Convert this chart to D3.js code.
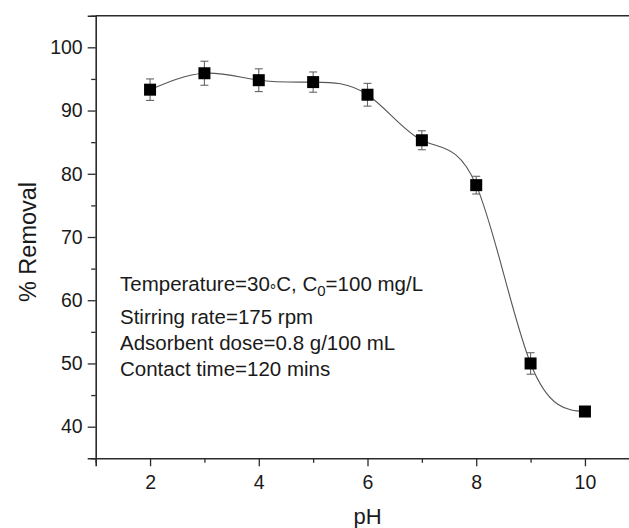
<!DOCTYPE html>
<html>
<head>
<meta charset="utf-8">
<script src="https://cdn.jsdelivr.net/npm/d3@7"></script>
<style>
  html, body { margin: 0; padding: 0; background: #fff; }
  svg { display: block; font-family: "Liberation Sans", Arial, Helvetica, sans-serif; }
</style>
</head>
<body>
<svg id="chart" width="629" height="528"></svg>
<script>
// pH study: percentage removal against solution pH
const pH = [2, 3, 4, 5, 6, 7, 8, 9, 10];
const removal = [93.3, 95.9, 94.8, 94.5, 92.5, 85.3, 78.2, 50.0, 42.4];
const errorBar = [1.7, 1.9, 1.8, 1.6, 1.8, 1.5, 1.4, 1.7, 0.7];

const xMajorTicks = [2, 4, 6, 8, 10];
const xMinorTicks = [1, 3, 5, 7, 9, 11];
const yMajorTicks = [40, 50, 60, 70, 80, 90, 100];
const yMinorTicks = [35, 45, 55, 65, 75, 85, 95, 105];

const xLabel = "pH";
const yLabel = "% Removal";

const svg = d3.select("#chart");
const plotLeft = 95.7, plotTop = 15.7, plotBottom = 458.3;
const pxPerUnit = 54.36;

const x = d3.scaleLinear().domain([1, 11]).range([plotLeft, plotLeft + 10 * pxPerUnit]);
const y = d3.scaleLinear().domain([35, 105]).range([plotBottom, plotTop]);

const axisColor = "#2b2b2b";
const textColor = "#1a1a1a";

// x axis: major ticks labelled, minor ticks unlabelled
const gx = svg.append("g").attr("transform", `translate(0,${plotBottom})`);
gx.call(d3.axisBottom(x).tickValues(xMajorTicks).tickSize(8).tickPadding(9).tickFormat(d3.format("d")));
gx.append("g").call(d3.axisBottom(x).tickValues(xMinorTicks).tickSize(4.5).tickFormat(""))
  .select(".domain").remove();

// y axis
const gy = svg.append("g").attr("transform", `translate(${plotLeft},0)`);
gy.call(d3.axisLeft(y).tickValues(yMajorTicks).tickSize(8).tickPadding(5).tickFormat(d3.format("d")));
gy.append("g").call(d3.axisLeft(y).tickValues(yMinorTicks).tickSize(4.5).tickFormat(""))
  .select(".domain").remove();

svg.selectAll(".domain").attr("stroke", axisColor).attr("stroke-width", 1.6);
svg.selectAll(".tick line").attr("stroke", axisColor).attr("stroke-width", 1.3);
svg.selectAll(".tick text").attr("fill", textColor).attr("font-size", 19.5)
  .attr("font-family", '"Liberation Sans", Arial, sans-serif');

// top frame line
svg.append("line")
  .attr("x1", plotLeft).attr("x2", x(11))
  .attr("y1", plotTop).attr("y2", plotTop)
  .attr("stroke", axisColor).attr("stroke-width", 1.6);

// axis titles
svg.append("text")
  .attr("x", x(6)).attr("y", 524)
  .attr("text-anchor", "middle")
  .attr("font-size", 22).attr("fill", textColor)
  .text(xLabel);

svg.append("text")
  .attr("transform", `translate(36,${(plotTop + plotBottom) / 2 + 5}) rotate(-90)`)
  .attr("text-anchor", "middle")
  .attr("font-size", 23.5).attr("fill", textColor)
  .text(yLabel);

// smooth connecting curve
const pts = pH.map((d, i) => [d, removal[i]]);
svg.append("path")
  .datum(pts)
  .attr("fill", "none")
  .attr("stroke", "#555")
  .attr("stroke-width", 1.1)
  .attr("d", d3.line().x(d => x(d[0])).y(d => y(d[1])).curve(d3.curveNatural));

// error bars
const capHalf = 4;
const eb = svg.append("g").attr("stroke", "#666").attr("stroke-width", 1.1);
pts.forEach((p, i) => {
  const cx = x(p[0]);
  const yHi = y(p[1] + errorBar[i]), yLo = y(p[1] - errorBar[i]);
  eb.append("line").attr("x1", cx).attr("x2", cx).attr("y1", yHi).attr("y2", yLo);
  eb.append("line").attr("x1", cx - capHalf).attr("x2", cx + capHalf).attr("y1", yHi).attr("y2", yHi);
  eb.append("line").attr("x1", cx - capHalf).attr("x2", cx + capHalf).attr("y1", yLo).attr("y2", yLo);
});

// square markers
const s = 12;
svg.append("g").selectAll("rect")
  .data(pts)
  .join("rect")
  .attr("x", d => x(d[0]) - s / 2)
  .attr("y", d => y(d[1]) - s / 2)
  .attr("width", s).attr("height", s)
  .attr("fill", "#000");

// experimental conditions
const note = svg.append("g").attr("font-size", 20.5).attr("fill", textColor);
const t1 = note.append("text").attr("x", 120).attr("y", 291);
t1.append("tspan").text("Temperature=30");
t1.append("tspan").attr("font-size", 16).attr("dy", 5).text("\u00B0");
t1.append("tspan").attr("dy", -5).text("C, C");
t1.append("tspan").attr("font-size", 15).attr("dy", 5).text("0");
t1.append("tspan").attr("dy", -5).text("=100 mg/L");

const conditionLines = ["Stirring rate=175 rpm", "Adsorbent dose=0.8 g/100 mL", "Contact time=120 mins"];
const lineY = [324, 350, 376];
conditionLines.forEach((t, i) => {
  note.append("text").attr("x", 120).attr("y", lineY[i]).text(t);
});
</script>
</body>
</html>
